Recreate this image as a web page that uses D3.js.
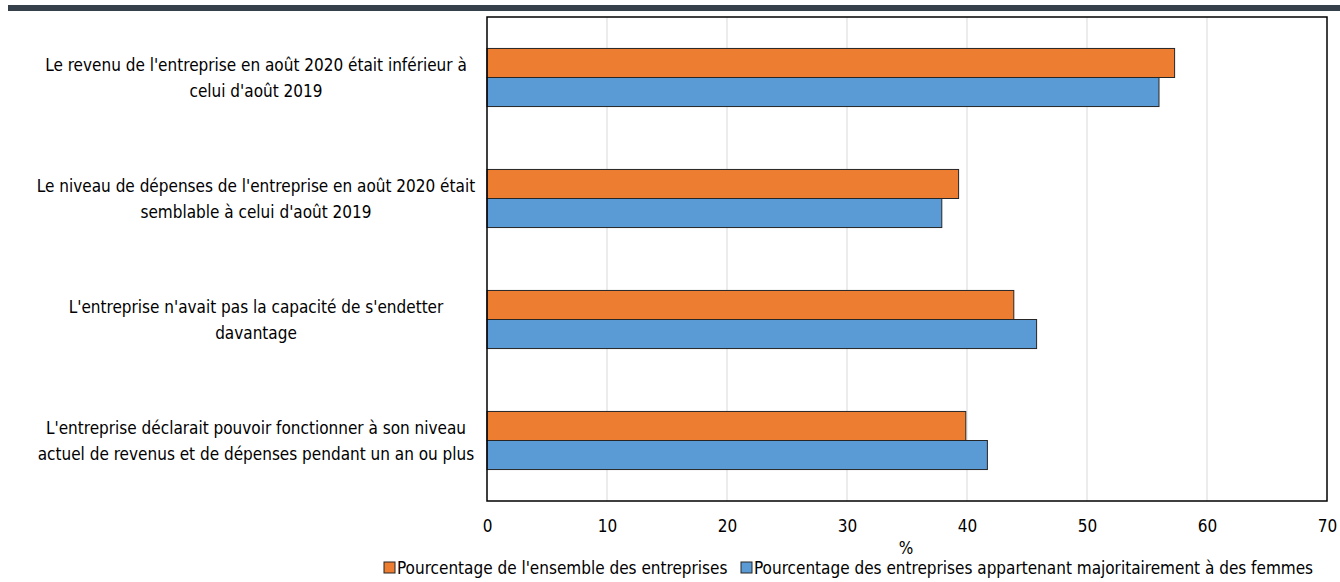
<!DOCTYPE html>
<html>
<head>
<meta charset="utf-8">
<script src="https://cdn.jsdelivr.net/npm/d3@7"></script>
<style>
  body { margin: 0; background: #fff; }
  svg { display: block; font-family: "Liberation Sans Narrow", "DejaVu Sans Condensed", sans-serif; }
</style>
</head>
<body>
<svg width="1340" height="582"></svg>
<script>
// categories, each split in display lines
const categories = [
  ["Le revenu de l'entreprise en août 2020 était inférieur à", "celui d'août 2019"],
  ["Le niveau de dépenses de l'entreprise en août 2020 était", "semblable à celui d'août 2019"],
  ["L'entreprise n'avait pas la capacité de s'endetter", "davantage"],
  ["L'entreprise déclarait pouvoir fonctionner à son niveau", "actuel de revenus et de dépenses pendant un an ou plus"]
];
const seriesNames = [
  "Pourcentage de l'ensemble des entreprises",
  "Pourcentage des entreprises appartenant majoritairement à des femmes"
];
const allFirms = [57.3, 39.3, 43.9, 39.9];
const womenFirms = [56.0, 37.9, 45.8, 41.7];
const xTicks = [0, 10, 20, 30, 40, 50, 60, 70];
const colors = ["#ED7D31", "#5B9BD5"];

const svg = d3.select('svg');
const m = { left: 487, right: 1327, top: 17, bottom: 501 };

// top rule
svg.append('rect').attr('x', 8).attr('y', 5).attr('width', 1332).attr('height', 6).attr('fill', '#36404a');

const x = d3.scaleLinear().domain([0, 70]).range([m.left, m.right]);
const y = d3.scaleBand().domain(d3.range(categories.length)).range([m.top, m.bottom]).paddingInner(0.52).paddingOuter(0.26);
const sub = d3.scaleBand().domain([0, 1]).range([0, y.bandwidth()]);

// grid lines
svg.selectAll('.grid')
  .data(xTicks.slice(1, -1))
  .enter()
  .append('line')
  .attr('x1', d => x(d)).attr('x2', d => x(d))
  .attr('y1', m.top).attr('y2', m.bottom)
  .attr('stroke', '#d9d9d9').attr('stroke-width', 1);

// bars
const series = [allFirms, womenFirms];
series.forEach((vals, s) => {
  svg.selectAll('.bar' + s)
    .data(vals)
    .enter()
    .append('rect')
    .attr('x', x(0))
    .attr('y', (d, i) => y(i) + sub(s))
    .attr('width', d => x(d) - x(0))
    .attr('height', sub.bandwidth())
    .attr('fill', colors[s])
    .attr('stroke', '#262626').attr('stroke-width', 1);
});

// frame
svg.append('rect')
  .attr('x', m.left).attr('y', m.top)
  .attr('width', m.right - m.left).attr('height', m.bottom - m.top)
  .attr('fill', 'none').attr('stroke', '#000').attr('stroke-width', 1.5);

// x axis
const xAxis = svg.append('g')
  .attr('transform', `translate(0,${m.bottom})`)
  .call(d3.axisBottom(x).tickValues(xTicks).tickSize(0).tickPadding(19));
xAxis.select('.domain').remove();
xAxis.selectAll('text').attr('font-size', 17).attr('fill', '#000')
  .attr('font-family', '"Liberation Sans Narrow", "DejaVu Sans Condensed", sans-serif');

svg.append('text').attr('x', (m.left + m.right) / 2 - 1).attr('y', 554)
  .attr('text-anchor', 'middle').attr('font-size', 17).text('%');

// category labels
const labelX = 256;
categories.forEach((lines, i) => {
  const cy = y(i) + y.bandwidth() / 2;
  const t = svg.append('text').attr('text-anchor', 'middle').attr('font-size', 17).attr('fill', '#000');
  lines.forEach((ln, j) => {
    t.append('tspan').attr('x', labelX)
      .attr('y', cy + (j - (lines.length - 1) / 2) * 26 + 6)
      .text(ln);
  });
});

// legend
const legendX = [384, 741];
seriesNames.forEach((name, s) => {
  svg.append('rect').attr('x', legendX[s]).attr('y', 562).attr('width', 11).attr('height', 11)
    .attr('fill', colors[s]).attr('stroke', '#262626').attr('stroke-width', 1);
  svg.append('text').attr('x', legendX[s] + 13).attr('y', 574)
    .attr('font-size', 17).text(name);
});
</script>
</body>
</html>
